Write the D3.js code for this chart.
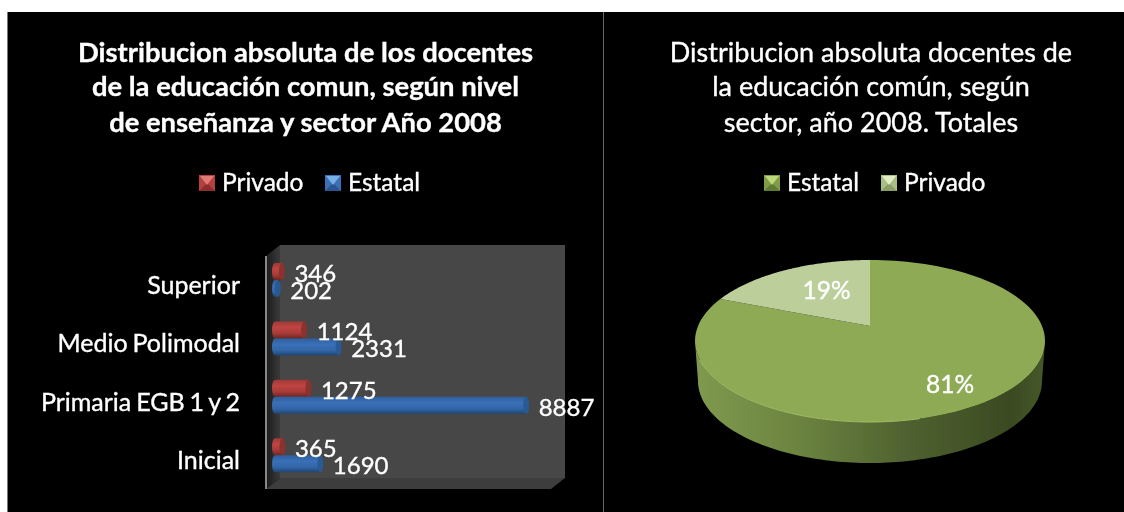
<!DOCTYPE html>
<html><head><meta charset="utf-8">
<script src="https://cdnjs.cloudflare.com/ajax/libs/d3/7.8.5/d3.min.js"></script>
<style>html,body{margin:0;padding:0;background:#fff;overflow:hidden}svg{display:block}text{font-family:Lato,"Open Sans",sans-serif;fill:#fff;stroke:#fff;stroke-width:.35}</style>
</head><body><svg id="c" width="1124" height="512"></svg>
<script>
const categories=["Superior","Medio Polimodal","Primaria EGB 1 y 2","Inicial"];
const barSeries=["Privado","Estatal"];
const privado=[346,1124,1275,365];
const estatal=[202,2331,8887,1690];
const pieLabels=["Estatal","Privado"];
const pieValues=[81,19];
const titleLeft=["Distribucion absoluta de los docentes","de la educación comun, según nivel","de enseñanza y sector Año 2008"];
const titleRight=["Distribucion absoluta docentes de","la educación común, según","sector, año 2008. Totales"];

const svg=d3.select("#c");
const defs=svg.append("defs");
defs.append("filter").attr("id","soft").attr("x","-5%").attr("y","-5%").attr("width","110%").attr("height","110%")
  .append("feGaussianBlur").attr("stdDeviation",0.65);
function vGrad(id,stops,horizontal){
  const g=defs.append("linearGradient").attr("id",id).attr("x1",0).attr("y1",0).attr("x2",horizontal?1:0).attr("y2",horizontal?0:1);
  stops.forEach(s=>g.append("stop").attr("offset",s[0]).attr("stop-color",s[1]));
}
vGrad("gPrivado",[[0,"#a03836"],[.35,"#bf4542"],[.7,"#a83a38"],[1,"#6f2624"]]);
vGrad("gEstatal",[[0,"#2f5e9c"],[.35,"#3a70b8"],[.7,"#3266a8"],[1,"#214672"]]);
vGrad("gLeftWall",[[0,"#1c1c1c"],[1,"#3a3a3a"]],true);
vGrad("gSide",[[0,"#7f9a4e"],[.3,"#6b8340"],[.6,"#4f6230"],[.9,"#3b4a22"],[1,"#46582a"]],true);

svg.append("rect").attr("x",7).attr("y",12).attr("width",1117).attr("height",500).attr("fill","#000");
svg.append("line").attr("x1",7.5).attr("x2",7.5).attr("y1",12).attr("y2",512).attr("stroke","#777").attr("stroke-width",1);
svg.append("line").attr("x1",603.5).attr("x2",603.5).attr("y1",12).attr("y2",512).attr("stroke","#666").attr("stroke-width",1);

const root=svg.append("g").attr("filter","url(#soft)");

function title(lines,cx,weight,size){
  root.append("g").selectAll("text").data(lines).join("text")
    .attr("x",cx).attr("y",(d,i)=>[62,96,132][i]).attr("text-anchor","middle")
    .attr("font-size",size).attr("font-weight",weight).text(d=>d);
}
title(titleLeft,305.5,700,27.4);
title(titleRight,871,400,27);

const swatchColors={Privado:["#b5413f","#e07a76","#8c2e2c"],Estatal:["#3a6fb5","#78aeea","#2a5590"]};
const pieSwatch={Estatal:["#7f9c46","#bcd878","#5f7a30"],Privado:["#a9bd84","#e2edc8","#8a9e68"]};
function legend(items,xs,colors){
  const s=16,y=175;
  items.forEach((name,i)=>{
    const g=root.append("g").attr("transform",`translate(${xs[i]},${y})`);
    const c=colors[name],m=s/2;
    g.append("rect").attr("width",s).attr("height",s).attr("fill",c[0]);
    g.append("path").attr("d",`M0,${s}H${s}L${m},${m}Z`).attr("fill",c[2]);
    g.append("path").attr("d",`M1,1H${s-1}L${m},${m+2}Z`).attr("fill",c[1]);
    g.append("text").attr("x",s+7).attr("y",16).attr("font-size",24.5).text(name);
  });
}
legend(barSeries,[199,325],swatchColors);
legend(pieLabels,[764,881],pieSwatch);

/* ---------- bar chart ---------- */
const x=d3.scaleLinear().domain([0,10000]).range([272,558]);
const y=d3.scaleBand().domain(categories).range([250.8,484.4]).paddingInner(.418).paddingOuter(.209);
const yInner=d3.scaleBand().domain(barSeries).range([0,y.bandwidth()]);
const wall={l:280,r:565,t:245,b:478},depth={x:14,y:11};
const box=root.append("g");
box.append("rect").attr("x",wall.l).attr("y",wall.t).attr("width",wall.r-wall.l).attr("height",wall.b-wall.t).attr("fill","#474747");
box.append("polygon").attr("points",[[wall.l,wall.t],[wall.l,wall.b],[wall.l-depth.x,wall.b+depth.y],[wall.l-depth.x,wall.t+depth.y]].join(" ")).attr("fill","url(#gLeftWall)");
box.append("polygon").attr("points",[[wall.l,wall.b],[wall.r,wall.b],[wall.r-depth.x,wall.b+depth.y],[wall.l-depth.x,wall.b+depth.y]].join(" ")).attr("fill","#3c3c3c");
box.append("line").attr("x1",wall.l-depth.x).attr("x2",wall.l-depth.x).attr("y1",wall.t+depth.y).attr("y2",wall.b+depth.y).attr("stroke","#a8a8a8").attr("stroke-width",1.6);

const axis=d3.axisLeft(y).tickSize(0).tickPadding(26);
const axG=root.append("g").attr("transform",`translate(${wall.l-depth.x},0)`).call(axis);
axG.select(".domain").remove();
axG.selectAll("text").attr("font-size",25).attr("y",14).attr("dy",0).attr("word-spacing",-1.5);
axG.attr("font-family",null);

const rows=[];
categories.forEach((c,i)=>{rows.push({c,s:"Privado",v:privado[i]});rows.push({c,s:"Estatal",v:estatal[i]});});
const endCap={Privado:"#8a302e",Estatal:"#2a5a94"};
const capRx=3,h=yInner.bandwidth();
const barY=d=>y(d.c)+yInner(d.s);
const bars=root.append("g").selectAll("g").data(rows).join("g")
  .attr("transform",d=>`translate(0,${barY(d)})`);
bars.append("path").attr("d",d=>{
  const xs=x(0)+capRx,x1=x(d.v);
  return `M${xs},0L${x1},0L${x1},${h}L${xs},${h}A${capRx},${h/2} 0 0 1 ${xs},0Z`;
}).attr("fill",d=>`url(#g${d.s})`);
bars.append("ellipse").attr("cx",d=>x(d.v)).attr("cy",h/2).attr("rx",capRx).attr("ry",h/2).attr("fill",d=>endCap[d.s]);
root.append("g").selectAll("text").data(rows).join("text")
  .attr("x",d=>x(d.v)+12.5).attr("y",d=>barY(d)+h/2+10.5).attr("font-size",24).text(d=>d.v);

/* ---------- pie ---------- */
const P={cx:870,cy:341,rx:175,ry:81,k:.185};
const proj=(a,f=1)=>{
  const u=Math.sin(a)*f,v=Math.cos(a)*f,den=1+P.k*v;
  const uu=u*Math.sqrt(1-P.k*P.k)/den,vv=(v+P.k)/den;
  return [P.cx+P.rx*uu,P.cy-P.ry*vv];
};
const arcs=d3.pie().sort(null)(pieValues);
const line=d3.line();
const sweep=(a0,a1,n=120)=>d3.range(n+1).map(i=>a0+(a1-a0)*i/n);
const B={cx:870,cy:381,rx:172,ry:82};
const sideTop=d3.range(0,121).map(i=>{const t=Math.PI/2+Math.PI*i/120;return [P.cx+P.rx*Math.sin(t),P.cy-P.ry*Math.cos(t)];});
const sideBot=d3.range(0,121).map(i=>{const t=Math.PI*3/2-Math.PI*i/120;return [B.cx+B.rx*Math.sin(t),B.cy-B.ry*Math.cos(t)];});
root.append("path").attr("d",line(sideTop.concat(sideBot))+"Z").attr("fill","url(#gSide)");
const pieColors=["#8eaa55","#bccf9b"];
root.append("g").selectAll("path").data(arcs).join("path")
  .attr("d",d=>line([proj(0,0)].concat(sweep(d.startAngle,d.endAngle).map(a=>proj(a))))+"Z")
  .attr("fill",(d,i)=>pieColors[i]);
root.append("path").attr("d",line(sideTop.filter((d,i)=>i>48&&i<112))).attr("fill","none").attr("stroke","#a3be66").attr("stroke-width",1);
const labelRadius=[.76,.53],labelNudge=[[-3,11],[4,5]];
root.append("g").selectAll("text").data(arcs).join("text")
  .attr("x",d=>proj((d.startAngle+d.endAngle)/2,labelRadius[d.index])[0]+labelNudge[d.index][0])
  .attr("y",d=>proj((d.startAngle+d.endAngle)/2,labelRadius[d.index])[1]+labelNudge[d.index][1])
  .attr("text-anchor","middle").attr("font-size",24.5).text(d=>d.data+"%");
</script></body></html>
